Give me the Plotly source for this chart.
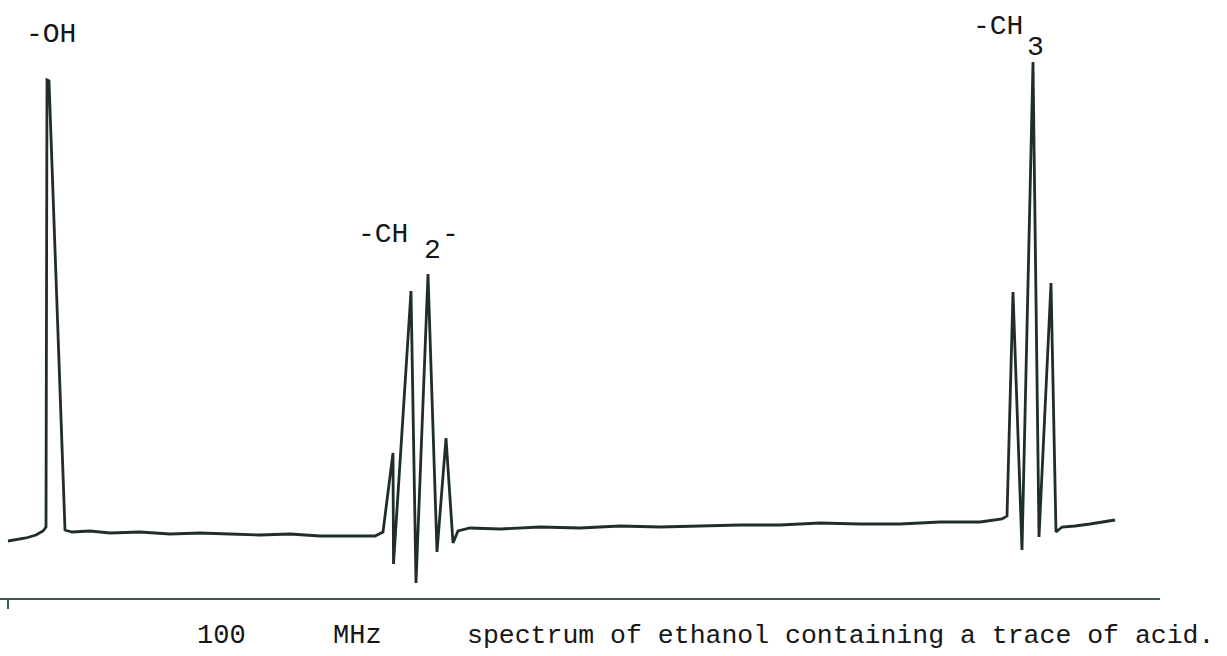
import plotly.graph_objects as go

# Spectrum trace (position along sweep, pen height above the axis line)
position = [8, 16, 26, 36, 43, 46, 47, 49, 65, 72, 90, 110, 140, 170, 200, 230, 260, 290, 320, 350,
            375, 383, 393, 393.5, 411, 416, 428, 437, 446, 453, 458, 470, 500, 540, 580, 620, 660, 700,
            740, 780, 820, 860, 900, 940, 980, 1002, 1007, 1013, 1022, 1033, 1039, 1051, 1056, 1062,
            1075, 1090, 1105, 1115]
intensity = [57, 58, 60, 63, 67, 71, 518, 517, 68, 66, 67, 65, 66, 64, 65, 64, 63, 64, 62, 62,
             62, 66, 145, 34, 307, 15, 324, 46, 160, 55, 67, 70, 69, 71, 70, 72, 71, 72,
             73, 73, 75, 74, 74, 76, 76, 79, 82, 306, 48, 536, 61, 315, 66, 71,
             72, 74, 76, 78]

axis_ticks = [8]

# Text labels: (text, x px, y px, anchor, size)
labels = [
    ("-OH", 51, 35, "center", 28),
    ("-CH", 383, 234, "center", 28),
    ("2", 432, 251, "center", 28),
    ("-", 451, 235, "center", 28),
    ("-CH", 998, 27, "center", 28),
    ("3", 1035, 47, "center", 28),
    ("100", 221, 636, "center", 27),
    ("MHz", 357, 636, "center", 27),
    ("spectrum of ethanol containing a trace of acid.", 465, 636, "left", 26.5),
]

W, H = 1227, 656
AXIS_END = 1160
AXIS_Y = 598

fig = go.Figure()
fig.add_trace(go.Scatter(
    x=position, y=intensity, mode="lines",
    line=dict(color="#1f2f26", width=2.8),
    hoverinfo="skip", showlegend=False,
))

for text, px, py, anchor, size in labels:
    fig.add_annotation(
        text=text, xref="paper", yref="paper",
        x=px / W, y=1 - py / H, xanchor=anchor, yanchor="middle",
        showarrow=False,
        font=dict(family="Liberation Mono", size=size, color="#161616"),
    )

fig.update_layout(
    width=W, height=H,
    margin=dict(l=0, r=0, t=0, b=0),
    paper_bgcolor="white", plot_bgcolor="white",
    xaxis=dict(domain=[0, AXIS_END / W], range=[0, AXIS_END], showgrid=False, zeroline=False,
               showline=True, linecolor="#40594a", linewidth=2,
               tickmode="array", tickvals=axis_ticks, ticks="outside", ticklen=9,
               tickcolor="#40594a", tickwidth=1.5, showticklabels=False),
    yaxis=dict(domain=[(H - AXIS_Y) / H, 1], range=[0, AXIS_Y], visible=False),
)

fig.write_html(
    "out.html",
    config={"displayModeBar": False},
    post_script="document.body.style.margin='0';document.body.style.overflow='hidden';",
)
